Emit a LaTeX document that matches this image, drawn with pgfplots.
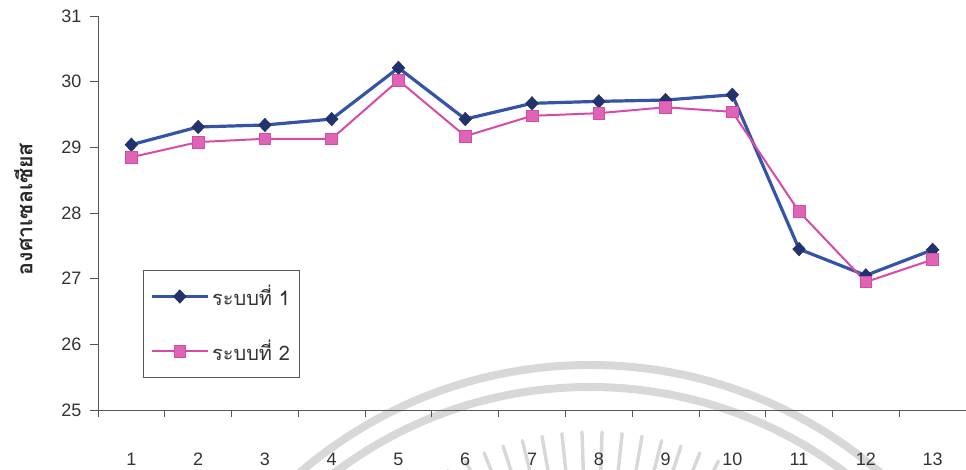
\documentclass[border=0pt]{standalone}
\usepackage{pgfplots}
\pgfplotsset{compat=1.18}
\usepackage{fontspec}
\setmainfont{Liberation Sans}
\newfontfamily\thaifont[Script=Thai]{Loma}

\definecolor{sysblue}{RGB}{52,84,168}
\definecolor{sysnavy}{RGB}{36,50,108}
\definecolor{syspink}{RGB}{216,74,166}
\definecolor{wmgrey}{RGB}{216,216,216}
\definecolor{axisgrey}{RGB}{85,85,85}

\begin{document}
\begin{tikzpicture}[x=0.75pt,y=0.75pt]
% faint seal in the background
\begin{scope}
  \clip (0,0) rectangle (966,470);
  \draw[wmgrey, line width=6pt] (590,-340) circle [radius=333.75pt];
  \draw[wmgrey, line width=6pt] (590,-340) circle [radius=317.25pt];
  \foreach \a in {60,64,...,120}
    \draw[wmgrey, line width=2.6pt, line cap=round]
      ([shift={(\a:187.5pt)}]592,-250) -- ([shift={(\a:216pt)}]592,-250);
\end{scope}

\begin{axis}[
  at={(73.5pt,45pt)}, anchor=south west,
  scale only axis, width=651pt, height=295.5pt,
  xmin=0.5, xmax=13.5, ymin=25, ymax=31,
  axis lines=left,
  axis line style={-, draw=axisgrey, line width=0.6pt},
  xtick={1,...,13},
  minor xtick={0.5,1.5,...,13.5},
  ytick={25,...,31},
  tick align=outside,
  major x tick style={draw=none},
  major tick length=6pt,
  minor tick length=5.5pt,
  every tick/.style={draw=axisgrey, line width=0.6pt},
  minor x tick style={draw=axisgrey, line width=0.6pt},
  tick label style={font=\fontsize{13.5}{15}\selectfont, text=black!80},
  /pgf/number format/assume math mode=true,
  xticklabel style={yshift=-23pt},
  yticklabel style={xshift=-3pt},
  ylabel={\thaifont\bfseries องศาเซลเซียส},
  every axis y label/.style={at={(rel axis cs:0,0.51)}, xshift=-56pt,
    rotate=90, anchor=center, font=\fontsize{16}{18}\selectfont, text=black!85},
  legend style={at={(rel axis cs:0.052,0.355)}, anchor=north west,
    draw=axisgrey, fill=white, line width=0.6pt,
    font=\thaifont\fontsize{15}{17}\selectfont, text=black!80,
    inner xsep=5pt, inner ysep=9pt, row sep=20pt},
  legend cell align=left,
  legend image code/.code={%
    \draw[mark repeat=2, mark phase=2]
      plot coordinates {(0pt,0pt) (21pt,0pt) (42pt,0pt)};},
]
\addplot[color=sysblue, line width=2.4pt,
  mark=diamond*, mark size=5pt,
  mark options={fill=sysnavy, draw=sysnavy, line width=0.5pt, xscale=1.25}]
  coordinates {
    (1,29.04) (2,29.31) (3,29.34) (4,29.43) (5,30.21) (6,29.43) (7,29.67)
    (8,29.70) (9,29.72) (10,29.80) (11,27.45) (12,27.05) (13,27.44)
  };
\addlegendentry{ระบบที่ 1}
\addplot[color=syspink, line width=1.5pt,
  mark=square*, mark size=4.4pt,
  mark options={fill=syspink!85, draw=syspink, line width=0.5pt}]
  coordinates {
    (1,28.85) (2,29.08) (3,29.13) (4,29.13) (5,30.02) (6,29.17) (7,29.48)
    (8,29.52) (9,29.61) (10,29.54) (11,28.02) (12,26.95) (13,27.29)
  };
\addlegendentry{ระบบที่ 2}
\end{axis}
\pgfresetboundingbox
\useasboundingbox (0,0) rectangle (966,470);
\end{tikzpicture}
\end{document}
